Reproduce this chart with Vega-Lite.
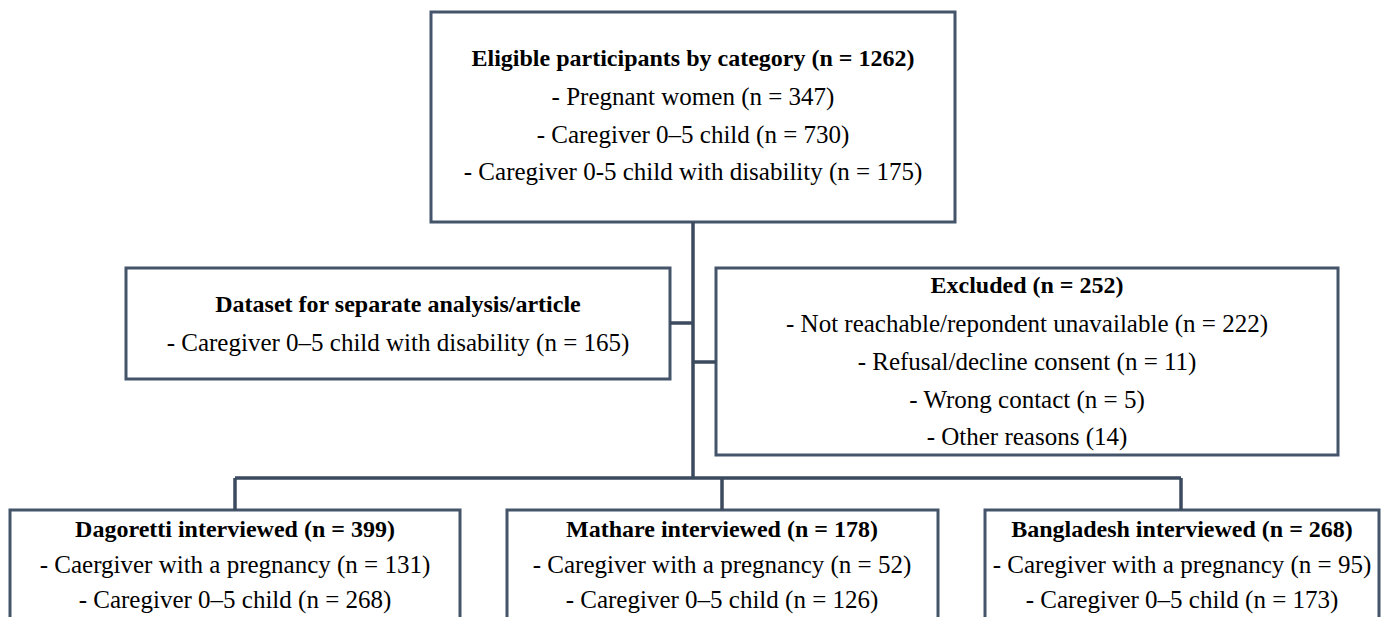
{
  "$schema": "https://vega.github.io/schema/vega-lite/v6.json",
  "width": 1385,
  "height": 617,
  "padding": 0,
  "autosize": {"type": "none"},
  "background": "white",
  "config": {"view": {"stroke": null}},
  "datasets": {
    "boxes": [
      {"box": "Eligible", "x1": 431, "x2": 955, "y1": 12, "y2": 222},
      {"box": "Dataset", "x1": 126, "x2": 670, "y1": 268, "y2": 379},
      {"box": "Excluded", "x1": 716, "x2": 1338, "y1": 268, "y2": 455},
      {"box": "Dagoretti", "x1": 10, "x2": 460, "y1": 510, "y2": 650},
      {"box": "Mathare", "x1": 507, "x2": 938, "y1": 510, "y2": 650},
      {"box": "Bangladesh", "x1": 985, "x2": 1379, "y1": 510, "y2": 650}
    ],
    "links": [
      {"x1": 693, "x2": 693, "y1": 222, "y2": 478},
      {"x1": 670, "x2": 693, "y1": 323, "y2": 323},
      {"x1": 693, "x2": 716, "y1": 362, "y2": 362},
      {"x1": 235, "x2": 1181, "y1": 478, "y2": 478},
      {"x1": 235, "x2": 235, "y1": 478, "y2": 510},
      {"x1": 722, "x2": 722, "y1": 478, "y2": 510},
      {"x1": 1181, "x2": 1181, "y1": 478, "y2": 510}
    ],
    "texts": [
      {"label": "Eligible participants by category (n = 1262)", "x": 693, "y": 59, "bold": true},
      {"label": "- Pregnant women (n = 347)", "x": 693, "y": 97, "bold": false},
      {"label": "- Caregiver 0–5 child (n = 730)", "x": 693, "y": 135, "bold": false},
      {"label": "- Caregiver 0-5 child with disability (n = 175)", "x": 693, "y": 172, "bold": false},
      {"label": "Dataset for separate analysis/article", "x": 398, "y": 305, "bold": true},
      {"label": "- Caregiver 0–5 child with disability (n = 165)", "x": 398, "y": 343, "bold": false},
      {"label": "Excluded (n = 252)", "x": 1027, "y": 286, "bold": true},
      {"label": "- Not reachable/repondent unavailable (n = 222)", "x": 1027, "y": 324, "bold": false},
      {"label": "- Refusal/decline consent (n = 11)", "x": 1027, "y": 362, "bold": false},
      {"label": "- Wrong contact (n = 5)", "x": 1027, "y": 400, "bold": false},
      {"label": "- Other reasons (14)", "x": 1027, "y": 437, "bold": false},
      {"label": "Dagoretti interviewed (n = 399)", "x": 235, "y": 530, "bold": true},
      {"label": "- Caergiver with a pregnancy (n = 131)", "x": 235, "y": 565, "bold": false},
      {"label": "- Caregiver 0–5 child (n = 268)", "x": 235, "y": 600, "bold": false},
      {"label": "Mathare interviewed (n = 178)", "x": 722, "y": 530, "bold": true},
      {"label": "- Caregiver with a pregnancy (n = 52)", "x": 722, "y": 565, "bold": false},
      {"label": "- Caregiver 0–5 child (n = 126)", "x": 722, "y": 600, "bold": false},
      {"label": "Bangladesh interviewed (n = 268)", "x": 1182, "y": 530, "bold": true},
      {"label": "- Caregiver with a pregnancy (n = 95)", "x": 1182, "y": 565, "bold": false},
      {"label": "- Caregiver 0–5 child (n = 173)", "x": 1182, "y": 600, "bold": false}
    ]
  },
  "layer": [
    {
      "data": {"name": "boxes"},
      "mark": {"type": "rect", "fill": "white", "stroke": "#44546A", "strokeWidth": 3},
      "encoding": {
        "x": {"field": "x1", "type": "quantitative", "scale": {"domain": [0, 1385], "nice": false, "zero": false}, "axis": null},
        "x2": {"field": "x2"},
        "y": {"field": "y1", "type": "quantitative", "scale": {"domain": [0, 617], "nice": false, "zero": false, "reverse": true}, "axis": null},
        "y2": {"field": "y2"}
      }
    },
    {
      "data": {"name": "links"},
      "mark": {"type": "rule", "stroke": "#3B4A5E", "strokeWidth": 3.5},
      "encoding": {
        "x": {"field": "x1", "type": "quantitative"},
        "x2": {"field": "x2"},
        "y": {"field": "y1", "type": "quantitative"},
        "y2": {"field": "y2"}
      }
    },
    {
      "data": {"name": "texts"},
      "transform": [{"filter": "datum.bold"}],
      "mark": {"type": "text", "font": "Liberation Serif", "fontSize": 24, "fontWeight": "bold", "color": "black", "align": "center", "baseline": "middle"},
      "encoding": {
        "x": {"field": "x", "type": "quantitative"},
        "y": {"field": "y", "type": "quantitative"},
        "text": {"field": "label"}
      }
    },
    {
      "data": {"name": "texts"},
      "transform": [{"filter": "!datum.bold"}],
      "mark": {"type": "text", "font": "Liberation Serif", "fontSize": 25, "color": "black", "align": "center", "baseline": "middle"},
      "encoding": {
        "x": {"field": "x", "type": "quantitative"},
        "y": {"field": "y", "type": "quantitative"},
        "text": {"field": "label"}
      }
    }
  ]
}
